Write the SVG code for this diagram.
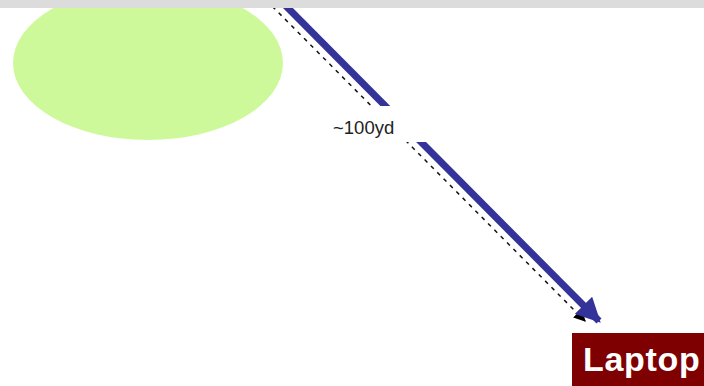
<svg xmlns="http://www.w3.org/2000/svg" width="704" height="386" viewBox="0 0 704 386">
<defs>
<style>
.lbl{font-family:"Liberation Sans",Arial,sans-serif;font-size:18.5px;fill:#222}
.node-text{font-family:"Liberation Sans",Arial,sans-serif;font-size:34px;font-weight:bold;fill:#ffffff;letter-spacing:0.7px}
</style>
<marker id="blueHead" viewBox="0 0 10 10" refX="9" refY="5" markerWidth="3.5" markerHeight="3.6" orient="auto" markerUnits="strokeWidth">
<path d="M0,0 L10,5 L0,10 z" fill="#333399"/>
</marker>
<marker id="blackHead" viewBox="0 0 10 10" refX="9" refY="5" markerWidth="8" markerHeight="8" orient="auto" markerUnits="strokeWidth">
<path d="M0,0 L10,5 L0,10 z" fill="#000"/>
</marker>
</defs>
<rect width="704" height="386" fill="#ffffff"/>
<g id="area">
<ellipse cx="148" cy="63" rx="135" ry="77" fill="#cdf99a"/>
</g>
<g id="connectors">
<line x1="266" y1="0" x2="585" y2="321" stroke="#111" stroke-width="1.5" stroke-dasharray="4 5" marker-end="url(#blackHead)"/>
<line x1="280" y1="0" x2="599" y2="321" stroke="#333399" stroke-width="7" marker-end="url(#blueHead)"/>
<rect x="328" y="106" width="98" height="36" fill="#ffffff"/>
<text class="lbl" x="333" y="134">~100yd</text>
</g>
<g id="laptop">
<rect x="572" y="333" width="140" height="60" fill="#7f0000"/>
<text class="node-text" x="583" y="371">Laptop</text>
</g>
<rect x="0" y="0" width="704" height="8" fill="#dcdcdc"/>
</svg>
